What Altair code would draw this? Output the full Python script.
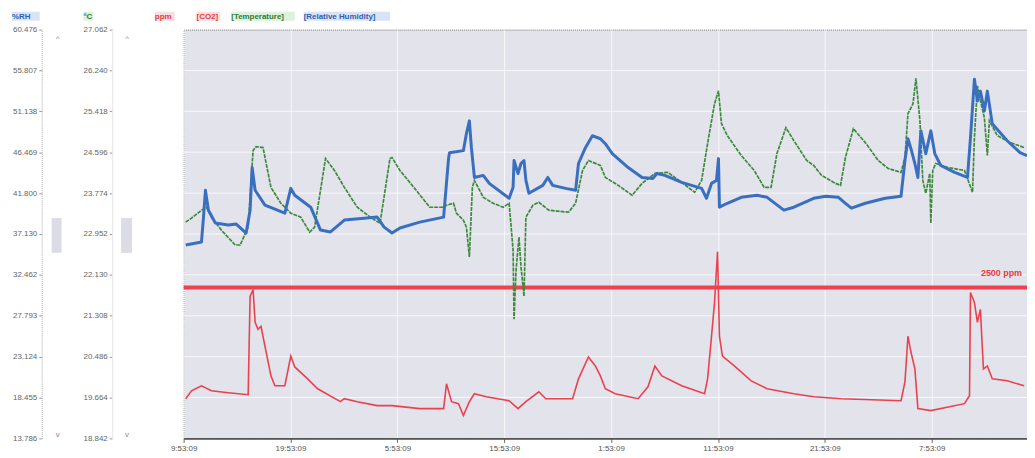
import altair as alt
import pandas as pd

# ---------------- data ----------------
rh_hours = [0.2,1.67,1.86,2.04,2.32,2.97,4.18,4.92,5.85,6.22,6.41,6.69,7.61,9.47,10.03,10.40,11.89,12.81,13.74,15.04,
            16.90,18.11,18.76,19.50,20.24,22.10,24.33,24.79,24.88,26.18,26.46,26.74,26.93,27.21,28.04,28.60,30.46,30.83,30.92,31.29,
            31.57,31.85,32.03,32.31,33.61,34.08,34.54,35.75,36.68,36.95,37.60,38.25,39.00,39.46,40.11,41.60,42.90,43.92,44.29,45.03,
            46.61,48.47,48.93,49.40,49.86,50.05,50.14,50.88,52.18,53.67,54.60,56.17,57.10,58.96,60.08,61.28,61.93,62.49,63.79,65.65,
            67.13,67.50,67.78,68.06,68.43,68.71,68.99,69.45,69.92,70.29,70.85,72.15,73.35,73.63,74.00,74.28,74.56,74.93,75.21,75.67,
            77.07,78.27,78.92]
rh_values = [35.88,36.22,39.06,42.12,39.85,38.38,38.15,38.26,37.24,39.85,44.72,42.12,40.42,39.51,42.34,41.55,40.19,37.58,37.36,38.72,
             38.94,39.06,37.92,37.24,37.81,38.49,39.06,45.74,46.42,46.65,48.58,50.05,46.99,43.59,43.82,42.91,41.21,42.46,45.52,44.04,
             45.18,45.52,43.25,41.78,42.68,43.59,42.68,42.34,42.12,45.18,46.99,48.35,48.01,47.44,46.31,44.72,43.59,43.48,44.04,43.82,
             43.02,42.34,41.21,42.91,43.25,45.74,40.19,40.64,41.32,41.55,41.32,39.85,40.19,41.21,41.44,41.32,40.64,40.08,40.64,41.21,
             41.44,45.52,48.01,46.88,45.18,43.59,48.92,46.31,48.92,46.31,44.95,44.16,43.59,48.12,54.81,52.32,53.45,51.18,53.45,49.71,
             47.78,46.42,46.08]

temp_hours = [0.19,0.74,1.67,2.14,2.60,3.53,4.83,5.29,6.04,6.50,6.78,7.43,8.17,9.10,10.03,10.96,11.79,12.26,13.28,14.11,
              15.04,16.25,17.46,18.38,19.31,19.50,20.24,21.54,23.03,24.33,24.60,25.26,25.53,26.18,26.46,26.74,27.02,27.21,28.04,28.97,
              29.90,30.46,30.83,30.92,31.11,31.38,31.57,31.85,32.03,32.68,33.24,34.17,36.03,36.68,37.33,37.88,39.00,39.46,40.67,41.97,
              42.90,44.10,45.31,46.61,47.82,48.47,49.03,49.68,50.05,50.33,50.88,52.18,53.39,54.32,54.97,55.52,56.36,57.10,58.31,58.96,
              59.70,61.00,61.47,61.93,62.67,63.79,65.00,65.93,67.13,67.50,67.78,68.25,68.53,68.90,69.17,69.45,69.82,69.92,70.10,70.38,
              71.50,73.07,73.82,74.00,74.28,74.56,74.93,75.21,75.40,76.14,77.35,78.65]
temp_values = [23.19,23.27,23.43,23.49,23.29,23.03,22.73,22.73,23.09,24.63,24.71,24.69,23.89,23.57,23.37,23.29,22.99,23.09,24.47,24.23,
               23.89,23.49,23.29,23.17,24.47,24.49,24.23,23.89,23.49,23.49,23.53,23.57,23.37,23.23,23.09,22.49,23.89,24.03,23.69,23.57,
               23.49,23.57,22.63,21.24,22.23,22.89,22.29,21.70,23.29,23.53,23.59,23.43,23.39,23.57,24.23,24.43,24.33,24.09,23.93,23.73,
               23.97,24.17,24.19,23.99,23.79,24.03,24.77,25.57,25.83,25.17,24.93,24.53,24.23,23.89,23.89,24.57,25.09,24.83,24.43,24.33,
               24.13,23.97,23.93,24.49,25.07,24.79,24.43,24.27,24.19,24.49,25.37,25.57,26.08,25.23,24.03,23.77,24.17,23.17,24.23,24.37,
               24.29,24.23,23.79,24.89,25.93,25.63,25.29,24.53,25.23,24.93,24.79,24.69]

co2_hours = [0.19,0.74,1.67,2.60,4.18,6.04,6.22,6.50,6.69,6.96,7.24,7.61,8.17,8.54,9.47,10.03,10.40,11.61,12.54,14.67,
             15.04,16.25,18.11,19.50,22.10,24.33,24.60,25.07,25.72,26.18,26.74,27.21,28.32,30.46,31.29,32.03,33.24,33.89,36.40,36.95,
             37.88,38.53,39.00,39.46,40.39,42.53,43.45,44.10,44.75,46.61,48.75,49.03,49.40,49.68,49.96,50.14,50.42,51.53,53.11,54.60,
             57.10,58.96,61.56,67.13,67.50,67.78,68.06,68.43,68.71,69.92,73.07,73.54,73.63,74.00,74.28,74.56,74.84,75.21,75.67,77.07,
             78.65]
co2_values = [489.9,567.6,616.2,567.6,548.2,528.8,1490.2,1558.2,1237.7,1169.7,1198.9,1004.6,713.3,616.2,616.2,907.5,800.7,684.2,587.1,460.8,
              489.9,460.8,422.0,422.0,392.8,392.8,635.6,460.8,441.4,324.9,460.8,538.5,509.4,470.5,392.8,460.8,557.9,489.9,489.9,684.2,
              897.8,810.4,713.3,587.1,538.5,489.9,606.5,810.4,713.3,616.2,538.5,684.2,1101.8,1431.9,1927.2,1101.8,907.5,810.4,664.7,587.1,
              538.5,509.4,489.9,470.5,655.0,1101.8,946.4,781.3,392.8,373.4,441.4,519.1,1529.0,1431.9,1237.7,1364.0,781.3,810.4,684.2,664.7,
              616.2]

threshold_ppm = [1577.6]
threshold_label = ["2500 ppm"]

rh_ticks = [13.786, 18.455, 23.124, 27.793, 32.462, 37.130, 41.800, 46.469, 51.138, 55.807, 60.476]
temp_ticks = [18.842, 19.664, 20.486, 21.308, 22.130, 22.952, 23.774, 24.596, 25.418, 26.240, 27.062]
ppm_ticks = [101.509, 501.609, 901.709, 1301.809, 1701.909, 2102.009, 2502.109, 2902.209, 3302.309, 3702.409, 4102.509]
x_ticks = [0, 10, 20, 30, 40, 50, 60, 70]
x_labels = ["9:53:09", "19:53:09", "5:53:09", "15:53:09", "1:53:09", "11:53:09", "21:53:09", "7:53:09"]

header_texts = ["%RH", "°C", "ppm", "[CO2]", "[Temperature]", "[Relative Humidity]"]
header_colors = ["#2f5fb3", "#2e7d32", "#e53945", "#e53945", "#2e7d32", "#2f5fb3"]
header_bg = ["#cfdcf3", "#d6ecd6", "#f8d4d8", "#f8d4d8", "#d6ecd6", "#cfdcf3"]
header_x = [-173, -101, -29, 13, 48, 121]
header_w = [28, 10, 20, 24, 64, 87]

# ---------------- chart ----------------
W, H = 850, 412
x_scale = alt.Scale(domain=[0, 78.92], nice=False, zero=False)
x_axis = alt.Axis(
    values=x_ticks, title=None, grid=True, gridColor="white", gridWidth=1, gridOpacity=0.75,
    labelExpr="[" + ",".join("'" + s + "'" for s in x_labels) + "][round(datum.value/10)]",
    labelFontSize=8, labelColor="#555", tickColor="#666", tickSize=4, labelPadding=2,
    domainColor="#555", domainWidth=2, labelFlush=False)
x_enc = alt.X("h:Q", scale=x_scale, axis=x_axis)

axis_common = dict(title=None, labelFontSize=8, labelColor="#666", tickSize=3, labelPadding=2, format=".3f")

rh_df = pd.DataFrame({"h": rh_hours, "v": rh_values})
t_df = pd.DataFrame({"h": temp_hours, "v": temp_values})
c_df = pd.DataFrame({"h": co2_hours, "v": co2_values})
thr_df = pd.DataFrame({"v": threshold_ppm, "label": threshold_label})
grid_df = pd.DataFrame({"v": ppm_ticks[1:-1]})

ppm_y = alt.Scale(domain=[ppm_ticks[0], ppm_ticks[-1]], nice=False, zero=False)
hgrid = alt.Chart(grid_df).mark_rule(color="white", strokeWidth=1, opacity=0.75).encode(
    y=alt.Y("v:Q", scale=ppm_y, axis=None))
c_line = alt.Chart(c_df).mark_line(color="#e8424f", strokeWidth=1.6).encode(
    x=x_enc,
    y=alt.Y("v:Q", scale=ppm_y,
            axis=alt.Axis(orient="left", offset=0, values=ppm_ticks, grid=False,
                          tickColor="#555", domainColor="#444", domainWidth=3, **axis_common)))
thr_rule = alt.Chart(thr_df).mark_rule(color="#f0404e", strokeWidth=4).encode(
    y=alt.Y("v:Q", scale=ppm_y, axis=None))
thr_text = alt.Chart(thr_df).mark_text(color="#e53945", fontSize=9, fontWeight="bold", align="right", dy=-15).encode(
    x=alt.value(845), y=alt.Y("v:Q", scale=ppm_y, axis=None), text="label:N")

co2_layer = alt.layer(hgrid, c_line, thr_rule, thr_text)

t_line = alt.Chart(t_df).mark_line(color="#3d8a3d", strokeWidth=1.7, strokeDash=[4, 1]).encode(
    x=x_enc,
    y=alt.Y("v:Q", scale=alt.Scale(domain=[temp_ticks[0], temp_ticks[-1]], nice=False, zero=False),
            axis=alt.Axis(orient="left", offset=72, values=temp_ticks, grid=False, tickColor="#999",
                          domainColor="#e6e6e6", **axis_common)))

rh_line = alt.Chart(rh_df).mark_line(color="#3a6fc0", strokeWidth=3, strokeJoin="round").encode(
    x=x_enc,
    y=alt.Y("v:Q", scale=alt.Scale(domain=[rh_ticks[0], rh_ticks[-1]], nice=False, zero=False),
            axis=alt.Axis(orient="left", offset=143, values=rh_ticks, grid=False, tickColor="#999",
                          domainColor="#aaa", domainDash=[1, 1], **axis_common)))

hdr_df = pd.DataFrame({"t": header_texts, "c": header_colors, "bg": header_bg, "x": header_x, "w": header_w})
hdr_df["x2"] = hdr_df["x"] + hdr_df["w"]
hdr_bg = alt.Chart(hdr_df).mark_rect(opacity=0.8).encode(
    x=alt.X("x:Q", scale=None), x2="x2:Q", y=alt.value(-18), y2=alt.value(-9),
    color=alt.Color("bg:N", scale=None))
hdr_txt = alt.Chart(hdr_df).mark_text(fontSize=8, fontWeight="bold", align="left", baseline="middle").encode(
    x=alt.X("x:Q", scale=None), y=alt.value(-13), text="t:N", color=alt.Color("c:N", scale=None))

# scroll indicators of the left axes
scroll_df = pd.DataFrame({"x": [-133, -63], "x2": [-123, -52]})
scroll = alt.Chart(scroll_df).mark_rect(color="#dcdce6").encode(
    x=alt.X("x:Q", scale=None), x2="x2:Q", y=alt.value(190), y2=alt.value(225))
arrow_df = pd.DataFrame({"x": [-127, -57, -127, -57], "y": [9, 9, 409, 409], "s": ["^", "^", "v", "v"]})
arrows = alt.Chart(arrow_df).mark_text(color="#888", fontSize=8).encode(
    x=alt.X("x:Q", scale=None), y=alt.Y("y:Q", scale=None), text="s:N")

deco = alt.layer(hdr_bg, hdr_txt, scroll, arrows)

chart = alt.layer(co2_layer, t_line, rh_line, deco).resolve_scale(y="independent").properties(
    width=W, height=H,
    autosize=alt.AutoSizeParams(type="none"),
    padding={"left": 177, "top": 20, "right": 0, "bottom": 16},
).configure(
    font="Liberation Sans",
    view=alt.ViewConfig(fill="#e3e3eb", stroke="#777", strokeDash=[1, 1], strokeWidth=1),
)

chart.save("out.html", embed_options={"renderer": "svg", "actions": False})
